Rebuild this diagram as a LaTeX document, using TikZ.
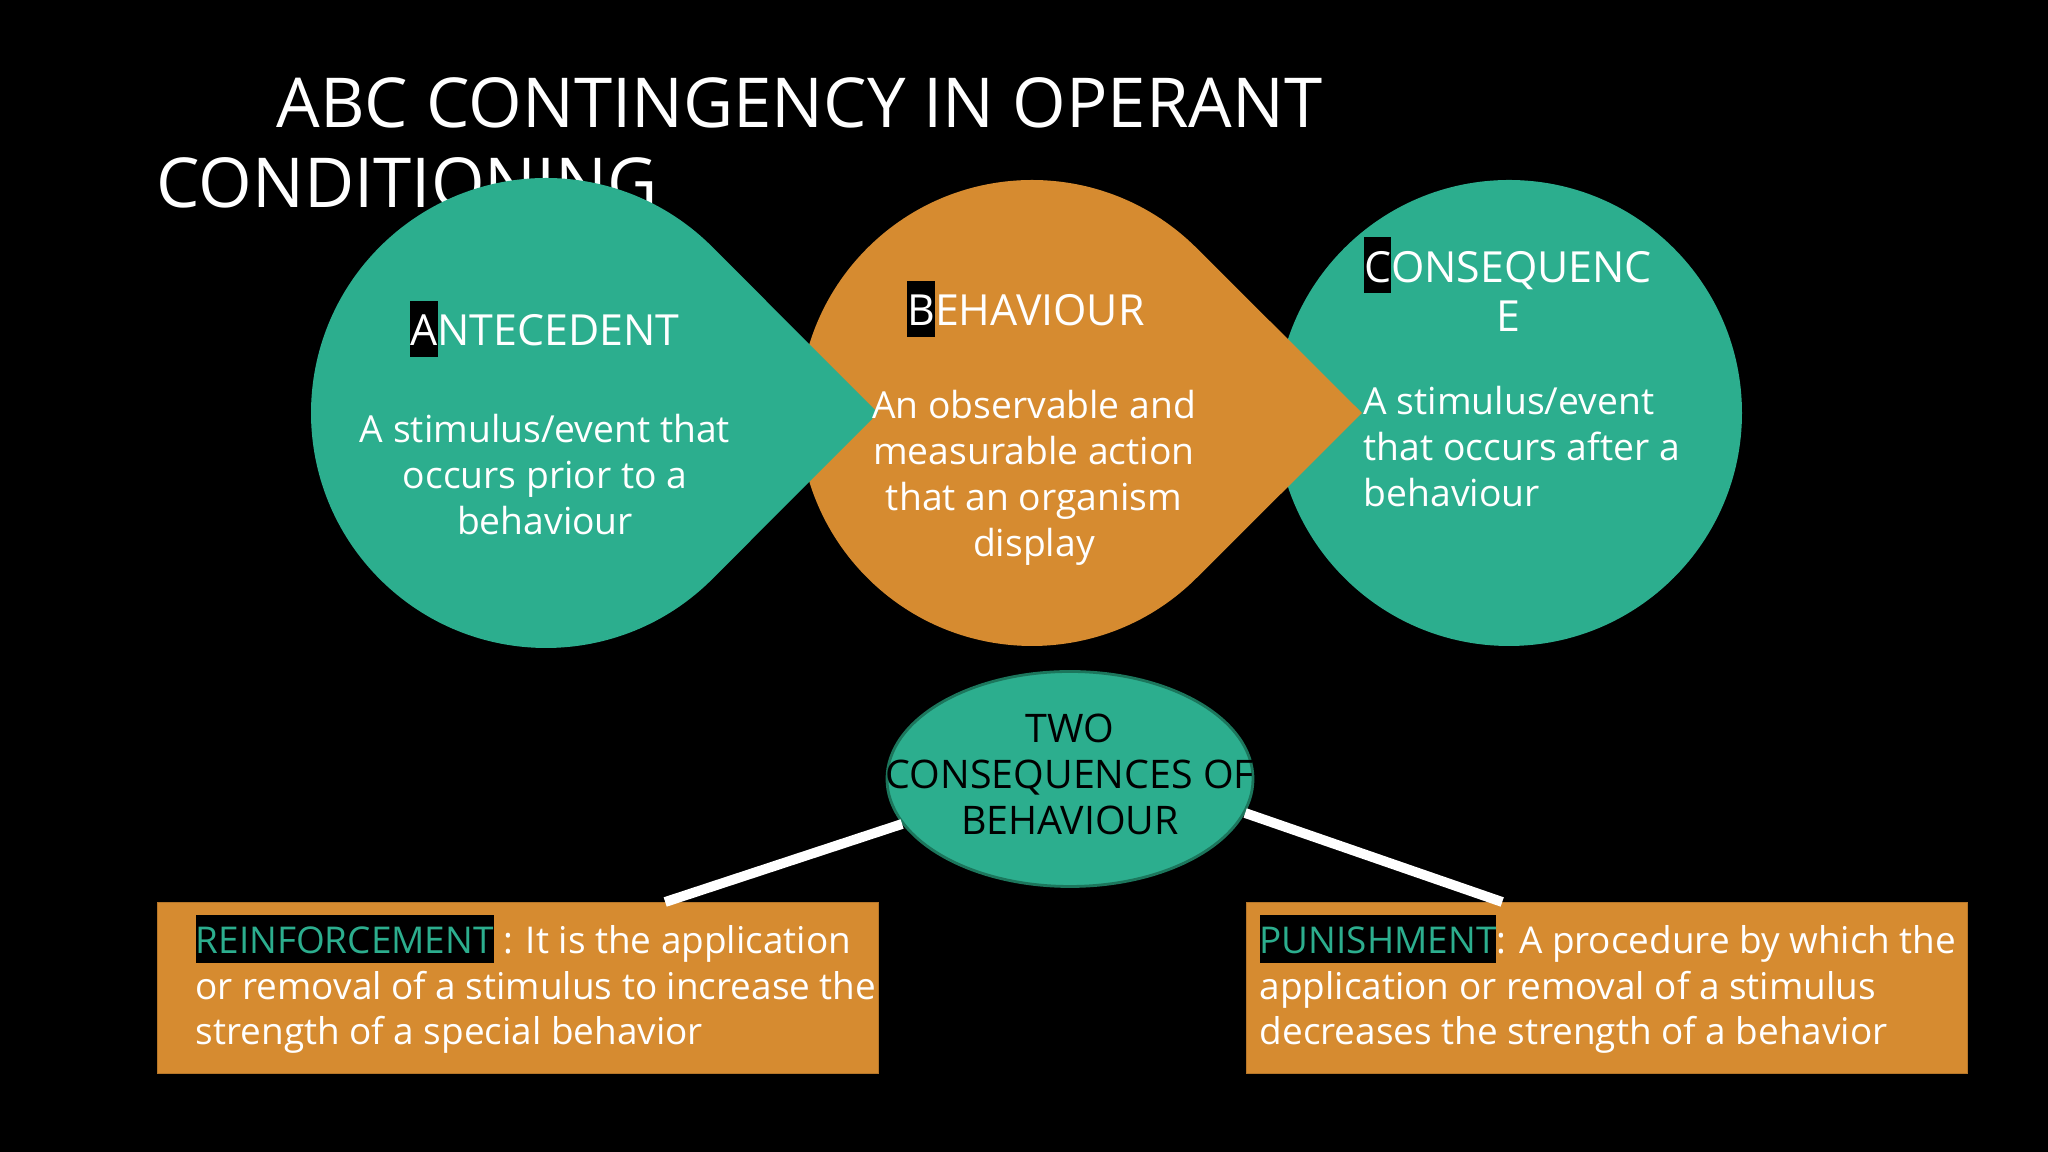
\documentclass[tikz,border=0pt]{standalone}
\usepackage{fontspec}
\setmainfont{Open Sans}
\usetikzlibrary{calc,shapes.geometric}
\definecolor{abcgreen}{RGB}{44,174,142}
\definecolor{abcorange}{RGB}{214,139,48}
\definecolor{abcedge}{RGB}{28,118,92}
\newcommand\hlbox[2][white]{{\setlength\fboxsep{0pt}\colorbox{black}{\textcolor{#1}{\rule[-0.25em]{0pt}{1.3em}#2}}}}

\begin{document}
\begin{tikzpicture}[
  every node/.style={inner sep=0pt, text=white},
  titletext/.style={font=\fontsize{19.6}{22.8}\selectfont, align=left, anchor=base west},
  headtext/.style={font=\fontsize{12.2}{14.2}\selectfont, align=center, anchor=base},
  bodytext/.style={font=\fontsize{10.6}{13.1}\selectfont, align=center, anchor=base},
  boxtext/.style={font=\fontsize{10.5}{13.0}\selectfont, align=left, anchor=base west},
  defbox/.style={draw=abcorange!85!black, line width=0.4pt, fill=abcorange,
                 minimum width=7.21cm, minimum height=1.71cm, anchor=north west},
  link/.style={white, line width=2.8pt}]
\useasboundingbox (0,0) rectangle (20.48,11.52);
\fill[black] (0,0) rectangle (20.48,11.52);
\node[titletext] (title) at (1.56,9.44) {\hspace*{1.2cm}ABC CONTINGENCY IN OPERANT\\CONDITIONING};
\coordinate (antc) at (5.46,7.39);
\coordinate (antt) at (8.78,7.39);
\coordinate (behc) at (10.32,7.39);
\coordinate (beht) at (13.62,7.39);
\coordinate (conc) at (15.09,7.39);
\fill[abcgreen] (conc) circle (2.33);
\fill[abcorange] (beht) -- ($(behc)+(45:2.33)$) arc[start angle=45, end angle=315, radius=2.33] -- cycle;
\fill[abcgreen] (antt) -- ($(antc)+(45:2.35)$) arc[start angle=45, end angle=315, radius=2.35] -- cycle;
\node[headtext] (anthead) at (5.45,8.06) {\hlbox{A}NTECEDENT};
\node[bodytext] (antbody) at (5.45,6.17) {A stimulus/event that\\occurs prior to a\\behaviour};
\node[headtext] (behhead) at (10.26,8.26) {\hlbox{B}EHAVIOUR};
\node[bodytext] (behbody) at (10.34,5.95) {An observable and\\measurable action\\that an organism\\display};
\node[headtext] (conhead) at (15.08,8.20) {\hlbox{C}ONSEQUENC\\E};
\node[bodytext, align=left, anchor=base west] (conbody) at (13.63,6.45) {A stimulus/event\\that occurs after a\\behaviour};
\node[ellipse, draw=abcedge, line width=0.8pt, fill=abcgreen,
      minimum width=3.66cm, minimum height=2.15cm] (two) at (10.70,3.73) {};
\node[bodytext, text=black, font=\fontsize{11.2}{13.1}\selectfont] (twotext) at ([yshift=-0.56cm]two.center) {TWO\\CONSEQUENCES OF\\BEHAVIOUR};
\node[defbox] (reinf) at (1.57,2.50) {};
\node[defbox] (punish) at (12.46,2.50) {};
\node[boxtext] (reinftext) at ([xshift=0.38cm, yshift=-1.43cm]reinf.north west)
  {\hlbox[abcgreen]{REINFORCEMENT} : It is the application\\or removal of a stimulus to increase the\\strength of a special behavior};
\node[boxtext] (punishtext) at ([xshift=0.13cm, yshift=-1.43cm]punish.north west)
  {\hlbox[abcgreen]{PUNISHMENT}: A procedure by which the\\application or removal of a stimulus\\decreases the strength of a behavior};
\coordinate (reinftop) at ([xshift=1.47cm]reinf.north);
\coordinate (punishtop) at ([xshift=-1.05cm]punish.north);
\draw[link] (two.195) -- (reinftop);
\draw[link] (two.349) -- (punishtop);
\end{tikzpicture}
\end{document}
